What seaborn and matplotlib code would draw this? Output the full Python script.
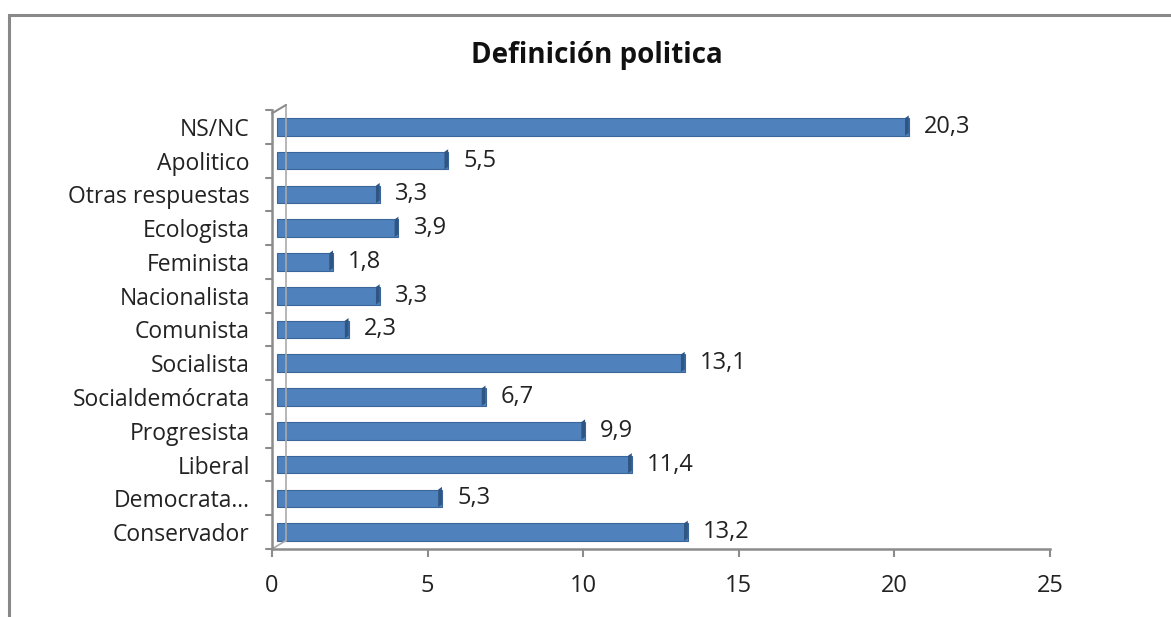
import matplotlib
matplotlib.use("Agg")
import matplotlib.pyplot as plt
import matplotlib.patches as mpatches
import matplotlib.transforms as mtransforms
import pandas as pd
import seaborn as sns

categorias = ["NS/NC", "Apolitico", "Otras respuestas", "Ecologista", "Feminista",
              "Nacionalista", "Comunista", "Socialista", "Socialdemócrata",
              "Progresista", "Liberal", "Democrata…", "Conservador"]
valores = [20.3, 5.5, 3.3, 3.9, 1.8, 3.3, 2.3, 13.1, 6.7, 9.9, 11.4, 5.3, 13.2]
ticks_x = [0, 5, 10, 15, 20, 25]

sns.set_theme(style="white")
plt.rcParams["font.family"] = ["Open Sans", "DejaVu Sans"]

AZUL = "#4F81BD"
AZUL_OSC = "#2F5683"
GRIS = "#8C8C8C"

df = pd.DataFrame({"cat": categorias, "val": valores})

fig = plt.figure(figsize=(11.71, 6.17), dpi=100)
ax = fig.add_axes([272 / 1171, 1 - 549 / 617, (1050 - 272) / 1171, (549 - 110) / 617])

sns.barplot(data=df, x="val", y="cat", orient="h", color=AZUL, width=0.52,
            edgecolor="#3A6699", linewidth=0.8, saturation=1, ax=ax)

# desplazamiento de profundidad (efecto 3D)
desplaza = mtransforms.ScaledTranslation(5 / 100, 0, fig.dpi_scale_trans)
barras = list(ax.patches)
for p in barras:
    p.set_transform(ax.transData + desplaza)
    x1 = p.get_x() + p.get_width()
    y0, h = p.get_y(), p.get_height()
    end = mpatches.Polygon([[x1 - 0.12, y0], [x1, y0 - 0.08], [x1, y0 + h - 0.08],
                            [x1 - 0.12, y0 + h]], closed=True, color=AZUL_OSC, lw=0,
                           transform=ax.transData + desplaza)
    ax.add_patch(end)

for i, v in enumerate(valores):
    ax.text(v + 0.65, i, f"{v:.1f}".replace(".", ","), va="center", ha="left",
            fontsize=17, color="#222222")

ax.set_xlim(0, 25)
ax.set_ylim(len(categorias) - 0.5, -0.5)
ax.set_xticks(ticks_x)
ax.set_xlabel("")
ax.set_ylabel("")
ax.tick_params(axis="x", labelsize=17, pad=12, colors=GRIS, labelcolor="#222222",
               length=6, width=1.5, direction="out", bottom=True)
ax.tick_params(axis="y", labelsize=16.5, pad=16, labelcolor="#222222", length=0)
# marcas entre categorías
for k in range(len(categorias) + 1):
    ax.plot([-0.2, 0], [k - 0.5, k - 0.5], color=GRIS, lw=1.5, clip_on=False)

for s in ["top", "right"]:
    ax.spines[s].set_visible(False)
for s in ["left", "bottom"]:
    ax.spines[s].set_color(GRIS)
    ax.spines[s].set_linewidth(1.8)

# pared trasera
ax.plot([0.45, 0.45], [-0.65, len(categorias) - 0.75], color="#AAAAAA", lw=1.2, clip_on=False)
ax.plot([0, 0.45], [-0.4, -0.65], color=GRIS, lw=1.5, clip_on=False)
ax.plot([0, 0.45], [len(categorias) - 0.5, len(categorias) - 0.75], color="#AAAAAA", lw=1.2, clip_on=False)

fig.text(597 / 1171, 1 - 55 / 617, "Definición politica", ha="center", va="center",
         fontsize=20, fontweight="bold", color="#111111")

fig.patches.append(mpatches.Rectangle((9 / 1171, -0.1), 1.2, 1 - 15 / 617 + 0.1,
                                      transform=fig.transFigure, fill=False,
                                      edgecolor="#888888", lw=2.2))

fig.savefig("out.png", dpi=100)
